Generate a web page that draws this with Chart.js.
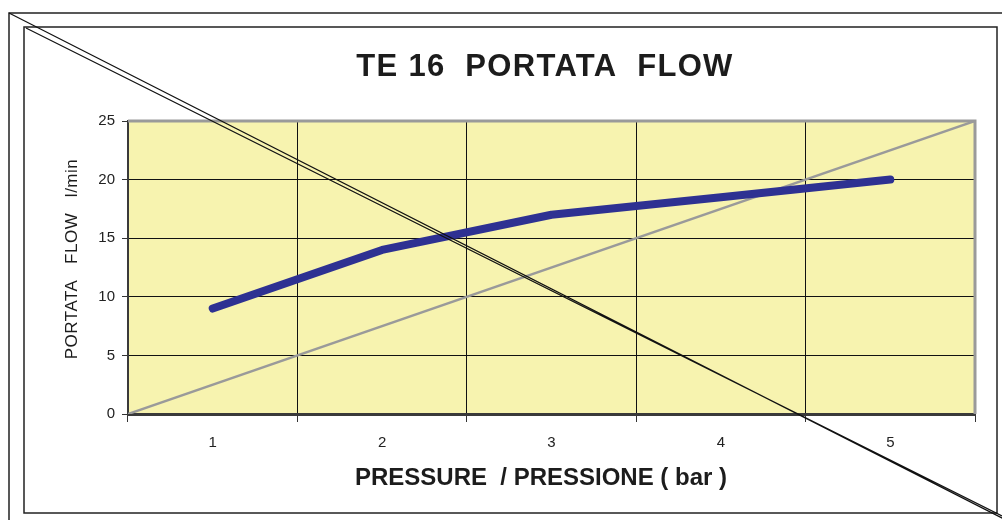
<!DOCTYPE html>
<html><head><meta charset="utf-8">
<script src="https://cdn.jsdelivr.net/npm/chart.js@4.4.1/dist/chart.umd.min.js"></script>
<style>html,body{margin:0;padding:0;background:#fff;overflow:hidden}#wrap{width:1002px;height:520px;position:relative}</style>
</head><body><div id="wrap"><canvas id="c" width="1002" height="520"></canvas></div>
<script>
const pressureLabels = ['1', '2', '3', '4', '5'];
const flowValues = [9, 14, 17, 18.5, 20];
const referenceLine = [{x: 0, y: 0}, {x: 1, y: 25}];
const yTicks = [0, 5, 10, 15, 20, 25];
const chartTitle = 'TE 16  PORTATA  FLOW';
const xTitle = 'PRESSURE  / PRESSIONE ( bar )';
const yTitle = 'PORTATA   FLOW   l/min';

const FONT = '"Liberation Sans", Arial, sans-serif';

const decor = {
  id: 'decor',
  beforeDraw(chart) {
    const ctx = chart.ctx, a = chart.chartArea;
    ctx.save();
    ctx.fillStyle = '#fff';
    ctx.fillRect(0, 0, chart.width, chart.height);
    ctx.fillStyle = '#F7F3AF';
    ctx.fillRect(a.left, a.top, a.right - a.left, a.bottom - a.top);
    ctx.restore();
  },
  afterDraw(chart) {
    const ctx = chart.ctx, a = chart.chartArea;
    ctx.save();
    // gray plot border (top / right)
    ctx.strokeStyle = '#9a9a9a';
    ctx.lineWidth = 3;
    ctx.beginPath();
    ctx.moveTo(a.left, a.top);
    ctx.lineTo(a.right, a.top);
    ctx.lineTo(a.right, a.bottom);
    ctx.stroke();
    // frames
    ctx.strokeStyle = '#222';
    ctx.lineWidth = 1.5;
    ctx.beginPath();
    ctx.moveTo(9, chart.height);
    ctx.lineTo(9, 13);
    ctx.lineTo(chart.width, 13);
    ctx.stroke();
    ctx.strokeRect(24, 27, 973, 486);
    // cross-out lines
    ctx.lineWidth = 1.2;
    ctx.strokeStyle = '#111';
    ctx.beginPath();
    ctx.moveTo(9, 13); ctx.lineTo(1004, 519);
    ctx.moveTo(26, 28); ctx.lineTo(1002, 516);
    ctx.stroke();
    // titles
    ctx.fillStyle = '#1c1c1c';
    ctx.textAlign = 'center';
    ctx.textBaseline = 'middle';
    ctx.font = 'bold 31px ' + FONT;
    ctx.letterSpacing = '1.3px';
    ctx.fillText(chartTitle, 545, 67);
    ctx.font = 'bold 24px ' + FONT;
    ctx.letterSpacing = '0px';
    ctx.fillText(xTitle, 541, 478);
    ctx.letterSpacing = '0.5px';
    ctx.font = '17px ' + FONT;
    ctx.translate(72, 259);
    ctx.rotate(-Math.PI / 2);
    ctx.fillText(yTitle, 0, 0);
    ctx.restore();
  }
};

new Chart(document.getElementById('c'), {
  type: 'line',
  data: {
    labels: pressureLabels,
    datasets: [
      {
        data: flowValues,
        borderColor: '#2E3192',
        borderWidth: 8,
        borderCapStyle: 'round',
        borderJoinStyle: 'round',
        pointRadius: 0,
        tension: 0,
        order: 1
      },
      {
        data: referenceLine,
        xAxisID: 'x2',
        borderColor: '#9a9a9a',
        borderWidth: 2.5,
        pointRadius: 0,
        order: 2
      }
    ]
  },
  options: {
    responsive: false,
    devicePixelRatio: 1,
    animation: false,
    layout: {padding: {top: 121, right: 27, left: 0, bottom: 0}},
    plugins: {legend: {display: false}, tooltip: {enabled: false}, title: {display: false}},
    scales: {
      x: {
        type: 'category',
        offset: true,
        grid: {offset: true, color: '#111', lineWidth: 1, tickLength: 8, tickColor: '#333'},
        border: {display: true, color: '#3a3a3a', width: 3},
        ticks: {color: '#222', font: {family: FONT, size: 15}, padding: 12, autoSkip: false, maxRotation: 0},
        afterFit(s) { s.height = 106; }
      },
      x2: {type: 'linear', display: false, min: 0, max: 1},
      y: {
        min: 0, max: 25,
        afterBuildTicks(s) { s.ticks = yTicks.map(v => ({value: v})); },
        grid: {color: '#111', lineWidth: 1, tickLength: 6, tickColor: '#333'},
        border: {display: true, color: '#3a3a3a', width: 2},
        ticks: {color: '#222', font: {family: FONT, size: 15}, padding: 7},
        afterFit(s) { s.width = 128; }
      }
    }
  },
  plugins: [decor]
});
</script>
</body></html>
